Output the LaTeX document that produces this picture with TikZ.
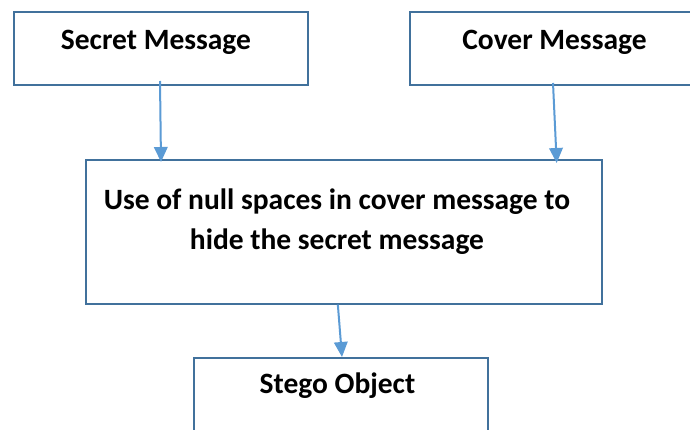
\documentclass[tikz,border=0pt]{standalone}
\usepackage{fontspec}
\setmainfont{Carlito}
\usetikzlibrary{arrows.meta,calc}
\definecolor{boxline}{HTML}{41719C}
\definecolor{arrowblue}{HTML}{5B9BD5}
\begin{document}
\begin{tikzpicture}[x=1pt,y=-1pt,
  box/.style={draw=boxline, line width=2pt, rectangle, inner sep=0pt, anchor=north west},
  lbl/.style={font=\fontsize{29.5}{38}\selectfont\bfseries, inner sep=0pt, anchor=base, align=center},
  flow/.style={draw=arrowblue, line width=2pt, -{Triangle[width=13.5pt,length=15pt]}}]
\clip (0,0) rectangle (690,430);
\fill[white] (0,0) rectangle (690,430);
% boxes
\node[box, minimum width=294pt, minimum height=73pt] (sec) at (13,11) {};
\node[box, minimum width=300pt, minimum height=73pt] (cov) at (409,11) {};
\node[box, minimum width=515.7pt, minimum height=143.7pt] (mid) at (85,159) {};
\node[box, minimum width=294pt, minimum height=100pt] (ste) at (193,357) {};
% labels
\node[lbl] (secT) at (156,49.5) {Secret Message};
\node[lbl] (covT) at (554.5,49.5) {Cover Message};
\node[lbl] (midT1) at (337,210) {Use of null spaces in cover message to};
\node[lbl] (midT2) at (337,249) {hide the secret message};
\node[lbl] (steT) at (337.5,393) {Stego Object};
% connectors
\draw[flow] ($(sec.south)+(-1,-5)$) -- ($(mid.north west)+(76,3)$);
\draw[flow] ($(cov.south west)+(144,-3)$) -- ($(mid.north east)+(-46,4)$);
\draw[flow] ($(mid.south)+(-6,0)$) -- ($(ste.north)+(1,0)$);
\end{tikzpicture}
\end{document}
